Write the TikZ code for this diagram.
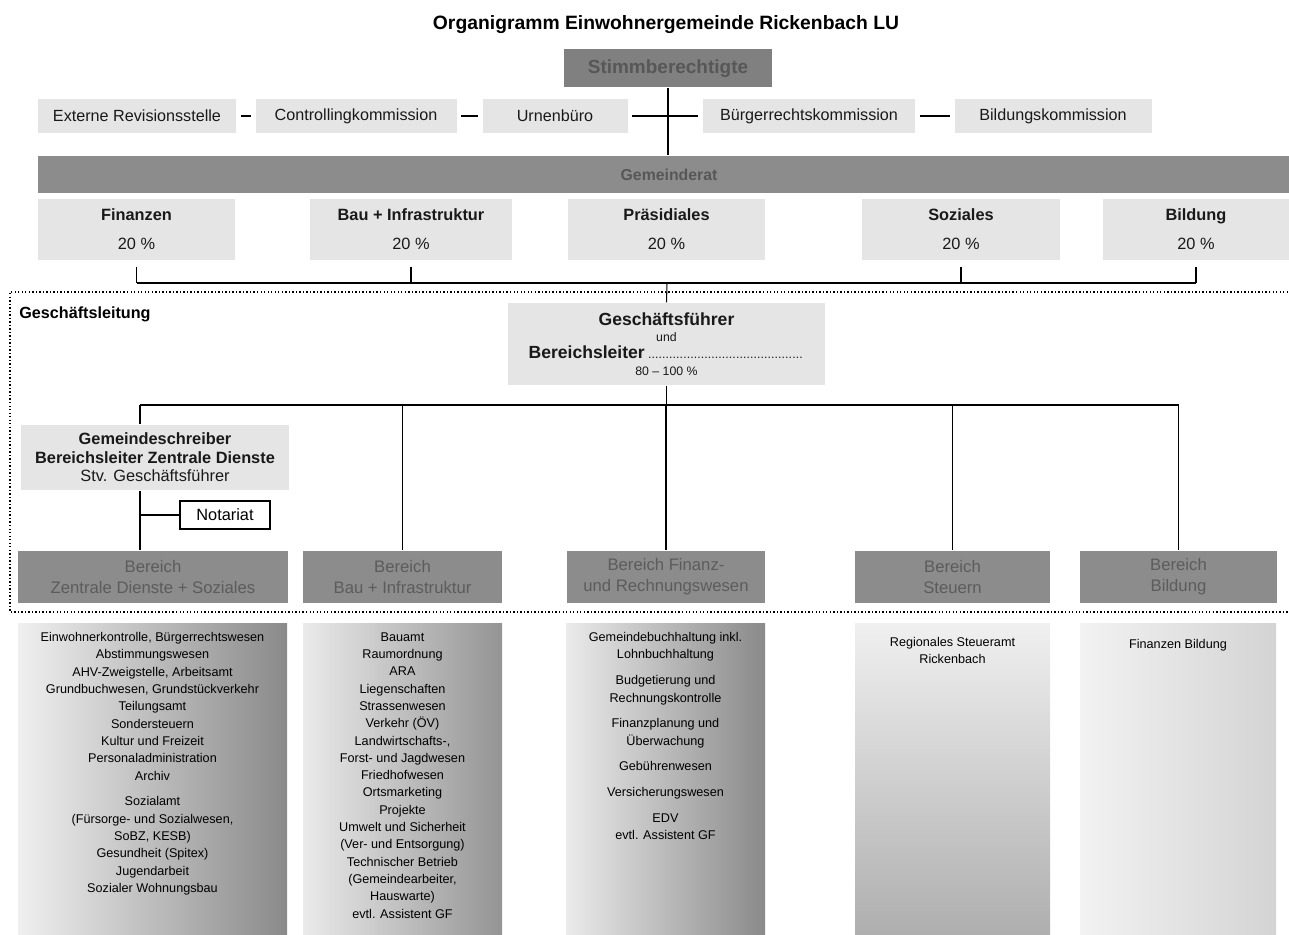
\documentclass[tikz,border=0pt]{standalone}
\usepackage{fontspec}
\setmainfont{Liberation Sans}
\usetikzlibrary{positioning}
\definecolor{lightfill}{gray}{0.9}
\definecolor{darkfill}{gray}{0.55}
\definecolor{darktext}{gray}{0.36}
\definecolor{stimmfill}{gray}{0.5}
\definecolor{stimmtext}{gray}{0.34}
\newcommand\fsz[2]{\fontsize{#1}{#2}\selectfont}
\tikzset{
  wh/.style 2 args={minimum width=#1*0.02cm,minimum height=#2*0.02cm},
  lbox/.style={fill=lightfill,inner sep=0pt,align=center,text=black!90,font=\fsz{9.2}{11}},
  dbox/.style={fill=darkfill,inner sep=0pt,align=center,text=darktext,font=\fsz{9.5}{12}},
  shortlink/.style={shorten <=0.08cm,shorten >=0.08cm},
  frameline/.style={line width=0.8pt,dash pattern=on 0.8pt off 1.2pt},
  col/.style={inner sep=0pt},
  coltext/.style={align=center,inner sep=0pt,font=\fsz{7.2}{9.85}},
}
\begin{document}
\begin{tikzpicture}[x=0.02cm,y=-0.02cm,line width=0.6pt]
  \useasboundingbox (0,0) rectangle (1289,935);
  \node[font=\bfseries\fsz{11}{13}] (title) at (666,25) {Organigramm Einwohnergemeinde Rickenbach LU};
  \node[dbox,fill=stimmfill,text=stimmtext,wh={208}{38},font=\bfseries\fsz{10.8}{13}] (stimm) at (668,68.5) {Stimmberechtigte};

  % Kommissionen
  \node[lbox,wh={198}{34}] (ext) at (137,116) {Externe Revisionsstelle};
  \node[lbox,wh={201}{34}] (ctrl) at (356,116) {Controllingkommission};
  \node[lbox,wh={145}{34}] (urne) at (555,116) {Urnenbüro};
  \node[lbox,wh={212}{34}] (buerg) at (809,116) {Bürgerrechtskommission};
  \node[lbox,wh={197}{34}] (bildk) at (1053,116) {Bildungskommission};
  \draw[shortlink] (ext) -- (ctrl);
  \draw[shortlink] (ctrl) -- (urne);
  \draw[shortlink] (urne) -- (buerg);
  \draw[shortlink] (buerg) -- (bildk);

  \node[dbox,text=stimmtext,wh={1262}{37},font=\bfseries\fsz{9}{11}] (grat) at (669,174.5) {Gemeinderat};
  \draw (stimm.south) -- (stimm.south |- grat.north);

  % Ressorts
  \foreach \name/\x/\w/\txt in {fin/136.5/197/Finanzen, bau/411/202/Bau + Infrastruktur,
      praes/666.5/197/Präsidiales, soz/961/198/Soziales, bildg/1196/186/Bildung}
    \node[lbox,wh={\w}{61},font=\fsz{9.3}{11}] (\name) at (\x,229.5) {\textbf{\txt}\\[5.4pt]20 \%};
  \coordinate (bus1) at (667,283);
  \foreach \name in {fin,bau,soz,bildg}
    \draw[shorten <=0.12cm] (\name.south) -- (\name.south |- bus1);
  \draw (fin.south |- bus1) -- (bildg.south |- bus1);

  % Geschaeftsleitung
  \draw[frameline] (1295,292) -- (10,292) -- (10,612) -- (1295,612);
  \node[anchor=west,font=\bfseries\fsz{9.2}{11}] (gl) at (13,314) {Geschäftsleitung};
  \node[lbox,wh={317}{82},font=\fsz{7}{9.6}] (gf) at (666.5,344)
    {{\bfseries\fsz{10}{10}Geschäftsführer}\\und\\
     \makebox[157pt][l]{{\bfseries\fsz{10}{10}Bereichsleiter}\,\leaders\hbox to 2pt{\hss.\hss}\hfill}\\
     80 – 100 \%};
  \draw (bus1) -- (gf.north);

  \node[lbox,wh={268}{65},font=\fsz{9.3}{10.6}] (gs) at (155,457.5)
    {\textbf{Gemeindeschreiber}\\\textbf{Bereichsleiter Zentrale Dienste}\\Stv. Geschäftsführer};
  \node[draw,fill=white,inner sep=0pt,wh={90}{28},font=\fsz{9.3}{11}] (nota) at (225,515) {Notariat};

  % Bereiche
  \foreach \name/\x/\w/\txt in {bz/153/270/{Bereich\\Zentrale Dienste + Soziales},
      bb/402.5/199/{Bereich\\Bau + Infrastruktur}, bf/666/198/{Bereich Finanz-\\und Rechnungswesen},
      bs/952.5/195/{Bereich\\Steuern}, bbi/1178.5/197/{Bereich\\Bildung}}
    \node[dbox,wh={\w}{52}] (\name) at (\x,577) {\txt};

  \coordinate (bus2) at (140,405);
  \draw (gf.south) -- (gf.south |- bus2);
  \draw (bus2) -- (bbi.north |- bus2);
  \foreach \name in {bb,bf,bs,bbi}
    \draw (\name.north |- bus2) -- (\name.north);
  \draw (bus2) -- (bus2 |- gs.north);
  \draw (bus2 |- gs.south) -- (bus2 |- bz.north);
  \draw (bus2 |- nota) -- (nota.west);

  % Aufgaben
  \foreach \name/\x/\w/\lc/\rc in {c1/152.5/269/6/46, c2/402.5/199/8/42,
      c3/665.5/199/8/46, c5/1178/196/5/17}
    \node[col,left color=black!\lc,right color=black!\rc,wh={\w}{316}] (\name) at (\x,782) {};
  \node[col,top color=black!6,bottom color=black!32,wh={195}{316}] (c4) at (952.5,782) {};
  \node[coltext,below=0.17cm of c1.north] (t1) {Einwohnerkontrolle, Bürgerrechtswesen\\Abstimmungswesen\\
    AHV-Zweigstelle, Arbeitsamt\\Grundbuchwesen, Grundstückverkehr\\Teilungsamt\\Sondersteuern\\
    Kultur und Freizeit\\Personaladministration\\Archiv\\[4.8pt]Sozialamt\\(Fürsorge- und Sozialwesen,\\
    SoBZ, KESB)\\Gesundheit (Spitex)\\Jugendarbeit\\Sozialer Wohnungsbau};
  \node[coltext,below=0.17cm of c2.north] (t2) {Bauamt\\Raumordnung\\ARA\\Liegenschaften\\Strassenwesen\\
    Verkehr (ÖV)\\Landwirtschafts-,\\Forst- und Jagdwesen\\Friedhofwesen\\Ortsmarketing\\Projekte\\
    Umwelt und Sicherheit\\(Ver- und Entsorgung)\\Technischer Betrieb\\(Gemeindearbeiter,\\Hauswarte)\\
    evtl. Assistent GF};
  \node[coltext,below=0.17cm of c3.north] (t3) {Gemeindebuchhaltung inkl.\\Lohnbuchhaltung\\[4.8pt]
    Budgetierung und\\Rechnungskontrolle\\[4.8pt]Finanzplanung und\\Überwachung\\[4.8pt]Gebührenwesen\\[4.8pt]
    Versicherungswesen\\[4.8pt]EDV\\evtl. Assistent GF};
  \node[coltext,below=0.27cm of c4.north] (t4) {Regionales Steueramt\\Rickenbach};
  \node[coltext,below=0.31cm of c5.north] (t5) {Finanzen Bildung};
\end{tikzpicture}
\end{document}
